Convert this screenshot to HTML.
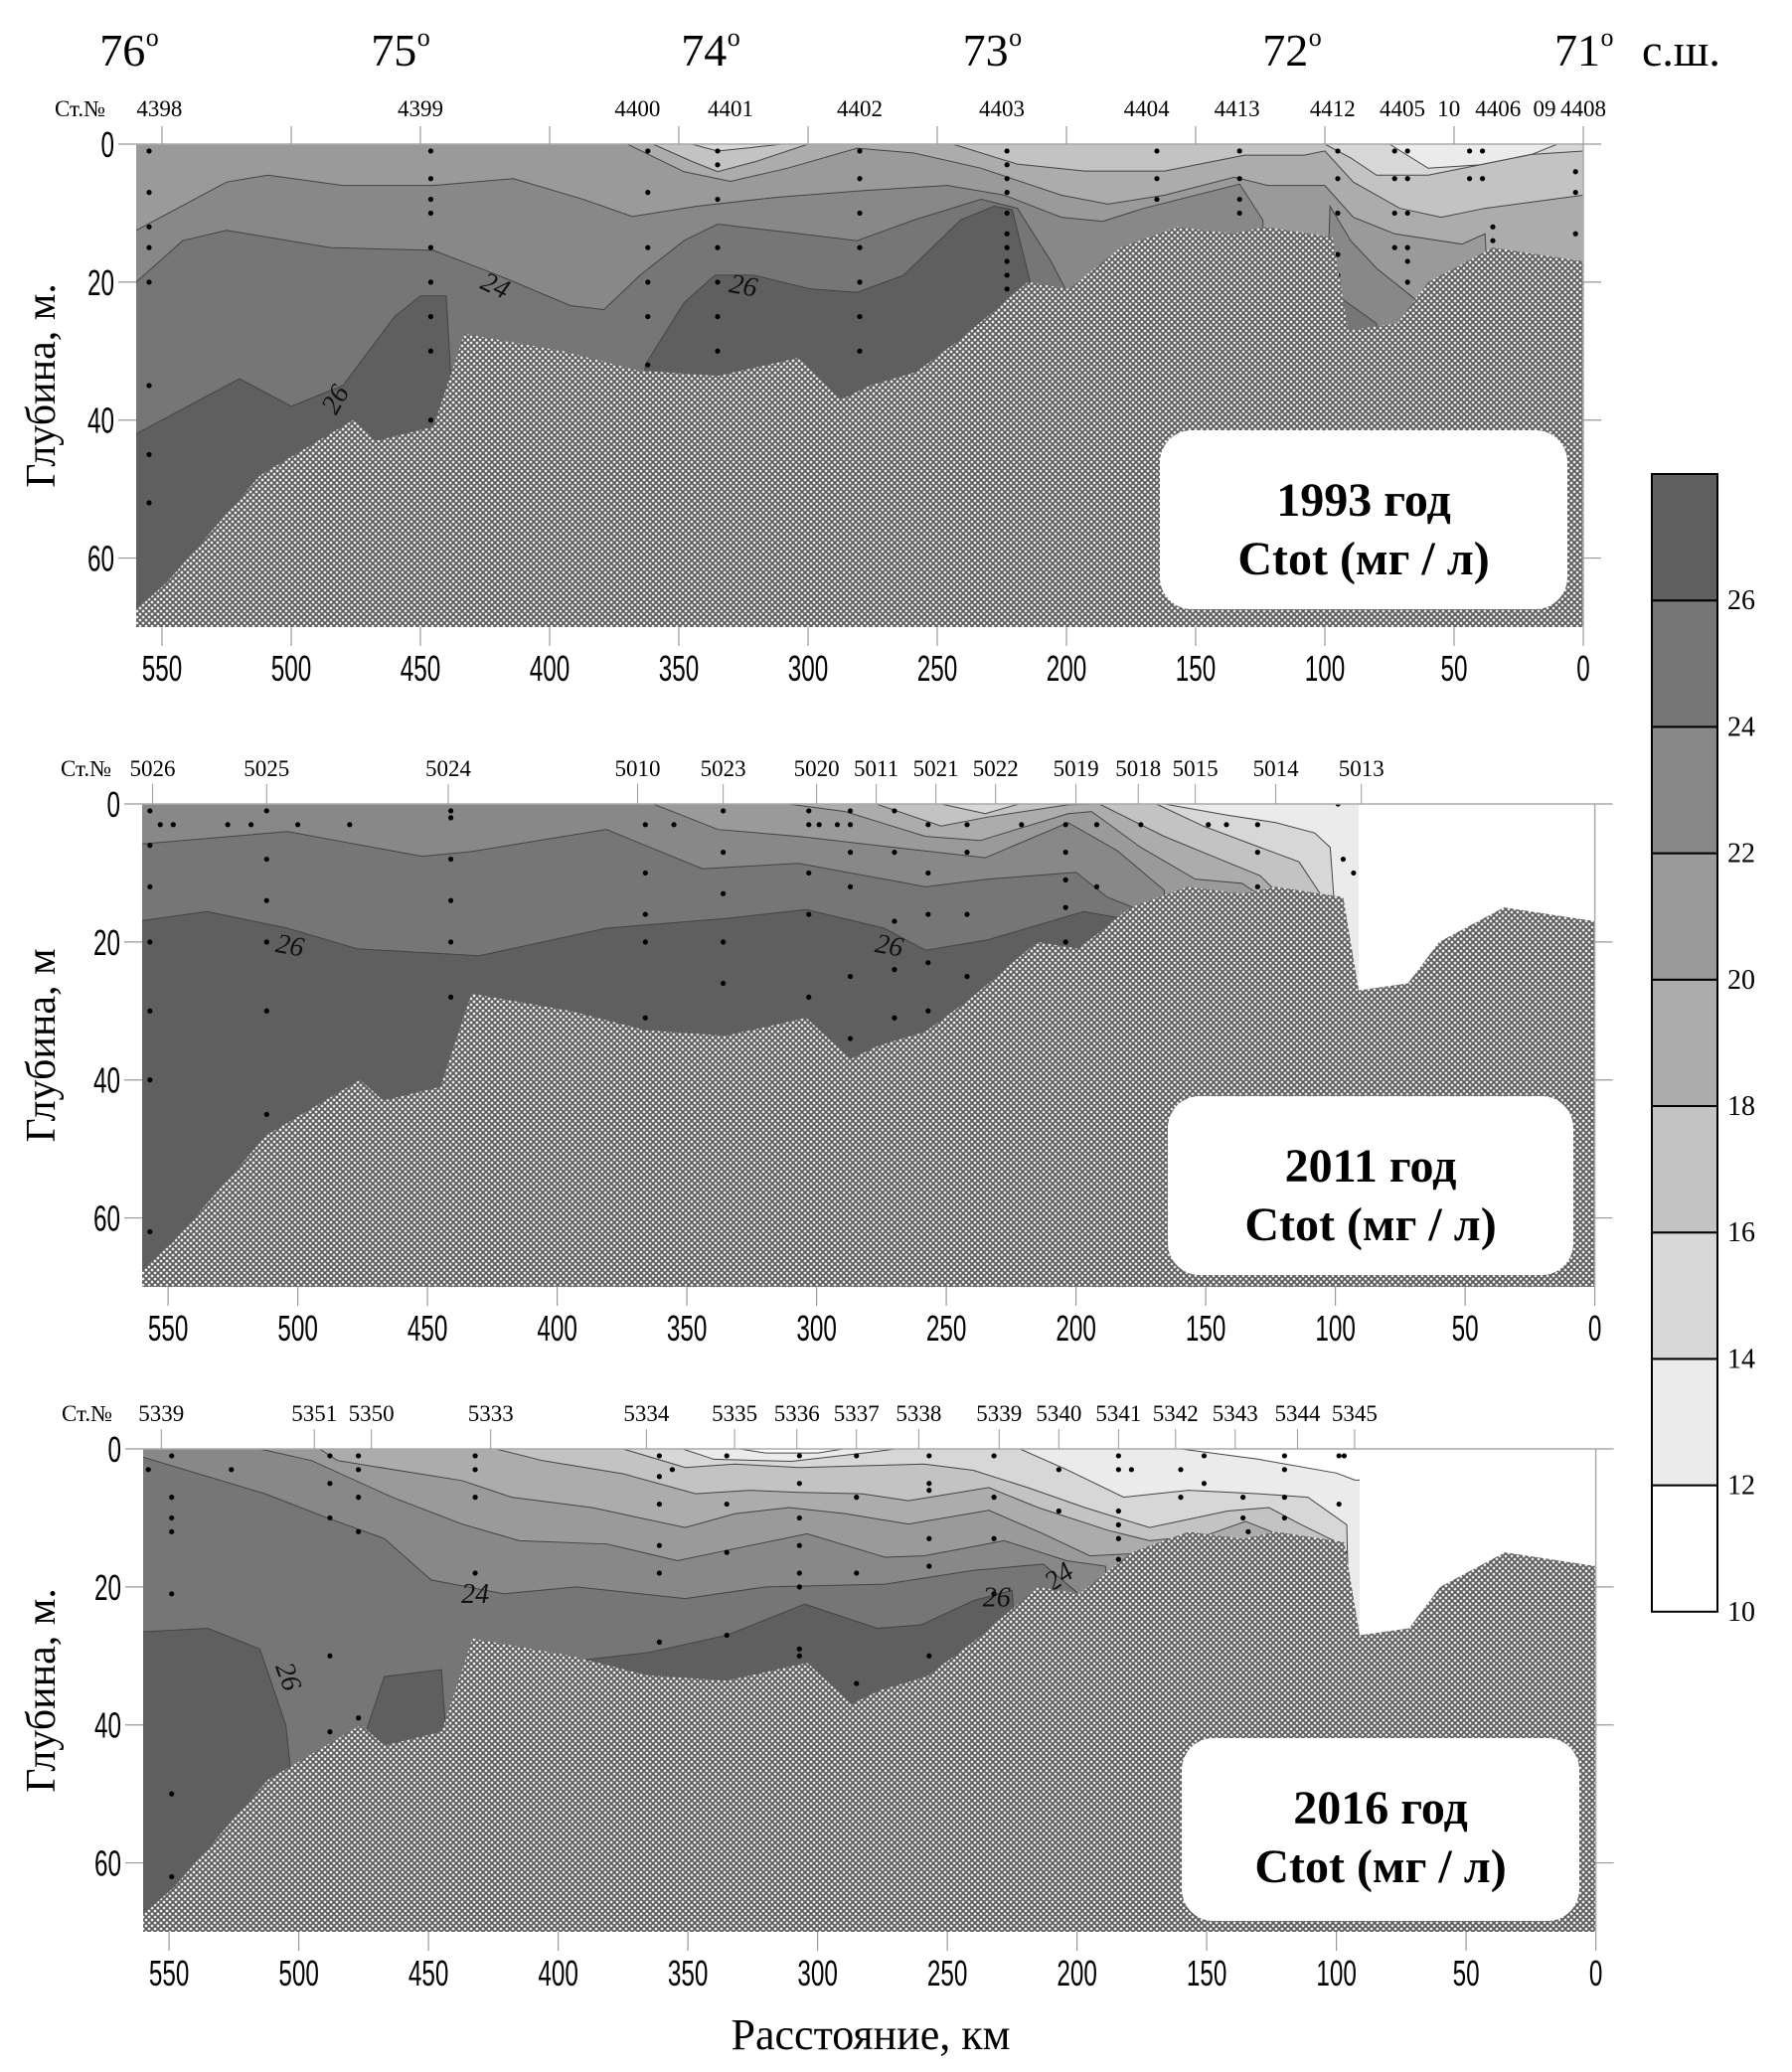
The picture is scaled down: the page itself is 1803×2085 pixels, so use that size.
<!DOCTYPE html>
<html><head><meta charset="utf-8">
<style>
html,body{margin:0;padding:0;background:#fff;}
svg{display:block;}
text{font-family:"Liberation Serif","DejaVu Serif",serif;}
.tick{font-family:"Liberation Sans Narrow","Liberation Sans",sans-serif;font-size:36px;}
</style></head>
<body>
<svg id="chart" width="1803" height="2085" viewBox="0 0 1803 2085" xmlns="http://www.w3.org/2000/svg">
<defs>
<pattern id="hatch" width="6" height="6" patternUnits="userSpaceOnUse">
<rect width="6" height="6" fill="#eeeeee"/>
<path d="M0,0 L6,6 M6,0 L0,6" stroke="#5a5a5a" stroke-width="1.7"/>
</pattern>
</defs>
</svg>
<script>
// ---------- data ----------
const bandLevels = [10,12,14,16,18,20,22,24,26];
const bandColors = ['#ffffff','#ebebeb','#d7d7d7','#c3c3c3','#acacac','#9a9a9a','#888888','#767676','#5f5f5f'];
const depthTicks = [0,20,40,60];
const kmTicks = [550,500,450,400,350,300,250,200,150,100,50,0];
const latLabels = ['76','75','74','73','72','71'];
const latKm = [563,458,338,229,113,0];
const bottomProfile = [[560,67.5],[548,63.5],[512,48],[476,40],[467,43],[445,41],[433,27.5],[395,30],[366,32.8],[335,33.6],[304,31],[287,37],[276,35],[258,33],[240,28],[215,20],[199,21],[179,15],[157,12],[136,13],[123,12],[97,13.5],[91,27],[72,26],[60,20],[35,15],[0,17]];

const p1Stations = ['4398','4399','4400','4401','4402','4403','4404','4413','4412','4405','10','4406','09','4408'];
const p1StationKm = [551,450,366,330,280,225,169,134,97,70,52,33,15,0];
const p1Iso = {
 14:[[560,0],[75,0],[60,3.5],[40,3],[20,1.5],[10,0],[0,0]],
 16:[[560,0],[345,0],[335,1],[322,0.5],[310,0],[100,0],[90,2],[80,4.5],[60,4.5],[40,3],[20,1.5],[0,1]],
 18:[[560,0],[360,0],[345,2.5],[335,4],[320,2.5],[300,0],[244,0],[219,2.9],[193,3.9],[162,3.9],[131,1.6],[108,1.6],[100,1],[89,5.5],[71,9.3],[55,10.6],[38,9.3],[0,7.4]],
 20:[[560,0],[370,0],[348,4],[330,5.4],[308,3.5],[281,0.6],[259,1.3],[233,3.5],[202,7.4],[184,8.7],[162,7.4],[135,4.8],[122,6],[100,6],[89,10.6],[73,13],[47,14.5],[38,13],[30,80],[0,80]],
 22:[[560,12.5],[525,5.5],[509,4.5],[480,6],[445,6],[414,5],[387,8],[368,10.5],[343,9],[312,7.7],[277,6.7],[246,6],[224,7.4],[202,10.6],[186,11.2],[170,9.3],[133,5.8],[124,11],[118,80],[104,80],[98,9],[90,14],[80,18],[70,21],[60,24],[55,80],[0,80]],
 24:[[560,20],[542,14],[525,12.5],[485,15],[445,15.4],[420,19],[392,23.4],[379,24],[365,19],[348,14],[335,11.6],[303,13],[281,14],[259,11],[233,8],[219,9.3],[206,17],[199,22],[192,80],[100,80],[95,22],[80,26],[72,80],[0,80]],
 26:[[560,42],[540,38],[520,34],[500,38],[480,35],[460,25],[450,22],[440,22],[432,80],[372,80],[363,32],[348,23],[336,19],[321,19],[299,21],[281,21.5],[263,19],[241,11],[228,9],[221,9.5],[214,20],[208,80],[0,80]]
};
const p1Dots = [[555,1],[555,7],[555,12],[555,15],[555,20],[555,35],[555,45],[555,52],[446,1],[446,5],[446,8],[446,10],[446,15],[446,20],[446,25],[446,30],[446,40],[362,1],[362,7],[362,15],[362,20],[362,25],[362,32],[335,1],[335,3],[335,8],[335,15],[335,20],[335,25],[335,30],[335,34],[280,1],[280,5],[280,10],[280,15],[280,20],[280,25],[280,30],[223,1],[223,3],[223,5],[223,7],[223,10],[223,13],[223,15],[223,17],[223,19],[223,21],[165,1],[165,5],[165,8],[165,14],[133,1],[133,5],[133,8],[133,10],[95,1],[95,5],[95,10],[95,16],[95,19],[95,20],[73,1],[73,5],[73,10],[73,15],[68,1],[68,5],[68,10],[68,15],[68,17],[68,20],[44,1],[44,5],[39,1],[39,5],[35,12],[35,14],[3,4],[3,7],[3,13]];

const p2Stations = ['5026','5025','5024','5010','5023','5020','5011','5021','5022','5019','5018','5015','5014','5013'];
const p2StationKm = [556,512,442,369,336,300,277,254,231,200,176,154,123,90];
const p2Iso = {
 14:[[560,0],[166,0],[142,1.6],[123,2.7],[108,4.2],[102,6.3],[98,27],[96,80],[0,80]],
 16:[[560,0],[252,0],[235,1.4],[222,0],[169,0],[151,3.2],[129,6.3],[114,8.4],[105,13.5],[100,80],[0,80]],
 18:[[560,0],[277,0],[252,3.2],[234,1.9],[203,0.1],[191,0],[166,4.7],[142,8.4],[129,10.4],[122,13],[118,80],[0,80]],
 20:[[560,0],[311,0],[289,1.1],[258,4.7],[237,5.3],[203,1.4],[194,1.1],[175,6.3],[154,10.9],[136,11.5],[130,13],[125,80],[0,80]],
 22:[[560,0],[363,0],[338,3.7],[307,4.7],[270,6.3],[235,7.8],[203,2.7],[184,6.8],[166,12.5],[160,80],[0,80]],
 24:[[560,5.8],[504,4],[452,7.6],[433,6.9],[381,3.7],[344,9.4],[307,8.6],[258,12],[234,10.9],[200,9.9],[188,13.5],[178,15],[170,80],[0,80]],
 26:[[560,16.9],[535,15.6],[504,18],[477,21],[430,22],[381,18],[335,16.6],[304,15.3],[274,18],[258,21.2],[234,19.7],[197,15.6],[182,16.6],[176,80],[0,80]]
};
const p2Dots = [[557,1],[557,6],[557,12],[557,20],[557,30],[557,40],[557,62],[553,3],[548,3],[527,3],[518,3],[512,1],[512,8],[512,14],[512,20],[512,30],[512,45],[500,3],[480,3],[441,1],[441,2],[441,8],[441,14],[441,20],[441,28],[366,3],[366,10],[366,16],[366,20],[366,31],[355,3],[336,1],[336,7],[336,13],[336,20],[336,26],[303,1],[303,3],[303,10],[303,16],[303,28],[299,3],[292,3],[287,1],[287,3],[287,7],[287,12],[287,25],[287,34],[270,1],[270,7],[270,17],[270,24],[270,31],[257,3],[257,10],[257,16],[257,23],[257,30],[242,3],[242,7],[242,16],[242,25],[221,3],[204,3],[204,7],[204,11],[204,15],[204,20],[192,3],[192,12],[175,3],[149,3],[142,3],[130,3],[130,7],[130,12],[99,0],[97,8],[93,10]];

const p3Stations = ['5339','5351','5350','5333','5334','5335','5336','5337','5338','5339','5340','5341','5342','5343','5344','5345'];
const p3StationKm = [553,494,472,426,366,332,308,285,261,230,207,184,162,139,115,93];
const p3Iso = {
 12:[[560,0],[330,0],[320,0.6],[300,0.6],[290,0],[160,0],[130,1.5],[100,3.5],[93,4.5],[0,5]],
 14:[[560,0],[352,0],[340,1.5],[310,1.8],[280,0.5],[270,0],[222,0],[204,3],[182,7],[157,6],[130,6.5],[111,7],[96,11],[92,80],[0,80]],
 16:[[560,0],[375,0],[351,2.7],[332,2.2],[307,2.7],[259,2.2],[240,3.1],[219,5.6],[197,8.5],[172,11.4],[142,9],[126,8.5],[114,10.9],[101,13.3],[97,80],[0,80]],
 18:[[560,0],[424,0],[406,1.7],[375,3.6],[347,6.5],[326,6],[307,6.3],[283,6.5],[265,7.5],[234,5.6],[215,8.5],[188,11.8],[172,13.3],[150,12.5],[135,10.5],[125,12],[118,80],[0,80]],
 20:[[560,0],[492,0],[485,1.7],[437,4.6],[418,7],[387,8.5],[351,11.4],[332,9.4],[311,8.5],[289,9.4],[265,10.9],[234,8.9],[213,12.3],[195,15.5],[179,15.2],[170,80],[0,80]],
 22:[[560,0],[515,0],[495,1.7],[464,7],[437,10.9],[415,13.3],[381,13.8],[354,16.2],[335,14.7],[304,12.3],[274,15.7],[259,15.5],[228,13.3],[204,16.2],[189,17],[182,80],[0,80]],
 24:[[560,1.2],[513,6.5],[489,10],[467,13],[449,19],[421,21],[393,20],[351,21.7],[320,20],[274,19.6],[240,17.6],[213,16.7],[200,20.8],[194,80],[0,80]],
 26:[[560,26.5],[535,26],[515,29],[505,40],[495,80],[480,80],[475,42],[467,33],[445,32],[437,80],[410,80],[400,31],[365,29.5],[335,27],[305,22.5],[277,26],[260,25.5],[240,22],[225,20.5],[215,80],[0,80]]
};
const p3Dots = [[558,3],[549,1],[549,7],[549,10],[549,12],[549,21],[549,50],[549,62],[526,3],[488,1],[488,5],[488,10],[488,30],[488,41],[477,1],[477,3],[477,7],[477,12],[477,39],[432,1],[432,3],[432,7],[432,18],[361,1],[361,4],[361,8],[361,14],[361,18],[361,28],[356,3],[335,1],[335,8],[335,15],[335,27],[307,1],[307,5],[307,10],[307,14],[307,18],[307,20],[307,29],[307,30],[285,1],[285,7],[285,18],[285,34],[257,1],[257,5],[257,6],[257,13],[257,17],[257,30],[232,1],[232,7],[232,13],[232,21],[207,3],[207,9],[184,1],[184,3],[184,9],[184,11],[184,13],[184,16],[179,3],[160,3],[160,7],[151,1],[151,5],[136,7],[136,10],[134,12],[120,1],[120,3],[120,7],[120,10],[99,1],[97,1],[99,8],[97,15],[97,19]];

const panels = [
 {top:145,left:137,scale:2.6,iso:p1Iso,base:12,waterEnd:0,stations:p1Stations,stKm:p1StationKm,dots:p1Dots,yTitle:'Глубина, м.',year:'1993 год',box:[1167,433,410,180],
  labels:[['24',421,20.5,25],['26',325,20.5,10],['26',483,37,-60]]},
 {top:809,left:143,scale:2.61,iso:p2Iso,base:12,waterEnd:91,stations:p2Stations,stKm:p2StationKm,dots:p2Dots,yTitle:'Глубина, м',year:'2011 год',box:[1175,1103,408,180],
  labels:[['26',503,20.5,10],['26',272,20.5,10]]},
 {top:1458,left:144,scale:2.61,iso:p3Iso,base:10,waterEnd:91,stations:p3Stations,stKm:p3StationKm,dots:p3Dots,yTitle:'Глубина, м.',year:'2016 год',box:[1189,1749,400,184],
  labels:[['24',432,21,0],['26',231,21.5,0],['24',207,18.5,-35],['26',504,33,70]]}
];
const PH = 486, DMAX = 70;

// ---------- drawing ----------
const NS='http://www.w3.org/2000/svg';
const svg=document.getElementById('chart');
function mk(tag,attrs,parent){const e=document.createElementNS(NS,tag);for(const k in attrs)e.setAttribute(k,attrs[k]);(parent||svg).appendChild(e);return e;}
function txt(s,attrs,parent){const e=mk('text',attrs,parent);e.textContent=s;return e;}
function narrow(s,attrs,parent){attrs.textLength=13.5*s.length;attrs.lengthAdjust='spacingAndGlyphs';return txt(s,attrs,parent);}

panels.forEach((p,pi)=>{
 const xs=km=>p.left+(560-km)*p.scale;
 const ys=d=>p.top+Math.min(d,75)*PH/DMAX;
 const right=xs(0), bottom=p.top+PH;
 const g=mk('g',{});
 
 
 const cp=mk('clipPath',{id:'water'+pi},svg.querySelector('defs'));
 let wpts=[[560,0],[p.waterEnd,0]];
 bottomProfile.slice().reverse().forEach(b=>{if(b[0]>=p.waterEnd)wpts.push(b);});
 if(p.waterEnd>0){wpts.splice(2,0,[p.waterEnd,27]);}
 const wstr=wpts.map(q=>xs(q[0])+','+ys(q[1])).join(' ');
 mk('polygon',{points:wstr},cp);
 const wg=mk('g',{'clip-path':'url(#water'+pi+')'},g);
 const baseIdx=bandLevels.indexOf(p.base);
 const bg=mk('rect',{x:p.left,y:p.top,width:right-p.left,height:PH,fill:bandColors[baseIdx]},wg);
 
 
 Object.keys(p.iso).map(Number).sort((a,b)=>a-b).forEach(lv=>{
   const line=p.iso[lv];
   const pts=line.map(q=>xs(q[0])+','+ys(q[1]));
   const poly=pts.concat([xs(line[line.length-1][0])+','+ys(80),xs(line[0][0])+','+ys(80)]).join(' ');
   const band=mk('polygon',{points:poly,fill:bandColors[bandLevels.indexOf(lv)]},wg);
   
   
   const iso=mk('polyline',{points:pts.join(' '),fill:'none',stroke:'#444',"stroke-width":1},wg);
   
   
 });
 p.dots.forEach(d=>{
   const c=mk('circle',{cx:xs(d[0]),cy:ys(d[1]),r:2.6,fill:'#000'},wg);
   
   
 });
 p.labels.forEach(l=>{
   const t=txt(l[0],{x:xs(l[1]),y:ys(l[2])+9,'font-size':28,'font-family':'Liberation Sans, sans-serif','font-style':'italic','text-anchor':'middle',transform:'rotate('+l[3]+' '+xs(l[1])+' '+ys(l[2])+')',fill:'#111'},g);
   
   
 });
 const bpts=bottomProfile.map(q=>xs(q[0])+','+ys(q[1]));
 bpts.push(xs(0)+','+bottom, xs(560)+','+bottom);
 const sb=mk('polygon',{points:bpts.join(' '),fill:'url(#hatch)'},g);
 
 
 mk('line',{x1:p.left,y1:p.top,x2:right,y2:p.top,stroke:'#aaa','stroke-width':1.5},g);
 mk('line',{x1:right,y1:p.top,x2:right,y2:bottom,stroke:'#aaa','stroke-width':1.5},g);
 depthTicks.forEach(d=>{
   mk('line',{x1:p.left-18,y1:ys(d),x2:p.left,y2:ys(d),stroke:'#999','stroke-width':1.2},g);
   mk('line',{x1:right,y1:ys(d),x2:right+18,y2:ys(d),stroke:'#999','stroke-width':1.2},g);
   const t=narrow(String(d),{x:p.left-22,y:ys(d)+13,'text-anchor':'end',class:'tick'},g);
   
   
 });
 kmTicks.forEach(k=>{
   mk('line',{x1:xs(k),y1:bottom,x2:xs(k),y2:bottom+19,stroke:'#999','stroke-width':1.2},g);
   const t=narrow(String(k),{x:xs(k),y:bottom+54,'text-anchor':'middle',class:'tick'},g);
   
   
   if(pi===0){mk('line',{x1:xs(k),y1:p.top-18,x2:xs(k),y2:p.top,stroke:'#999','stroke-width':1.2},g);}
 });
 const st=txt('Ст.№',{x:p.left-82,y:p.top-28,'font-size':23},g);
 
 
 p.stations.forEach((s,i)=>{
   const t=txt(s,{x:xs(p.stKm[i]),y:p.top-28,'font-size':23,'text-anchor':'middle'},g);
   
   
   if(pi>0){mk('line',{x1:xs(p.stKm[i]),y1:p.top-20,x2:xs(p.stKm[i]),y2:p.top,stroke:'#999','stroke-width':1},g);}
 });
 const yc=p.top+PH/2;
 const yt=txt(p.yTitle,{x:42,y:yc,'font-size':42,'text-anchor':'middle',transform:'rotate(-90 42 '+yc+')',dy:13},g);
 
 
 const b=p.box;
 const r=mk('rect',{x:b[0],y:b[1],width:b[2],height:b[3],rx:32,ry:32,fill:'#fff'},g);
 
 
 const t1=txt(p.year,{x:b[0]+b[2]/2,y:b[1]+86,'font-size':48,'font-weight':'bold','text-anchor':'middle'},g);
 
 
 const t2=txt('Ctot (мг / л)',{x:b[0]+b[2]/2,y:b[1]+145,'font-size':48,'font-weight':'bold','text-anchor':'middle'},g);
 
 
});

latLabels.forEach((l,i)=>{
 const x=137+(560-latKm[i])*2.6;
 const t=txt(l,{x:x-6,y:66,'font-size':46,'text-anchor':'middle'});
 
 
 txt('o',{x:x+24,y:46,'font-size':26,'text-anchor':'middle'});
});
const sh=txt('с.ш.',{x:1652,y:66,'font-size':46});



const xt=txt('Расстояние, км',{x:876,y:2062,'font-size':44,'text-anchor':'middle'});



const cbX=1662, cbW=66, cbTop=477, cbBand=127.2;
const cbG=mk('g',{});


for(let i=0;i<bandLevels.length;i++){
 const y=cbTop+(bandLevels.length-1-i)*cbBand;
 const rr=mk('rect',{x:cbX,y:y,width:cbW,height:cbBand,fill:bandColors[i],stroke:'#000','stroke-width':2},cbG);
 
 
 const t=txt(String(bandLevels[i]),{x:cbX+cbW+10,y:y+cbBand+9,'font-size':28},cbG);
 
 
}
</script>
</body></html>
